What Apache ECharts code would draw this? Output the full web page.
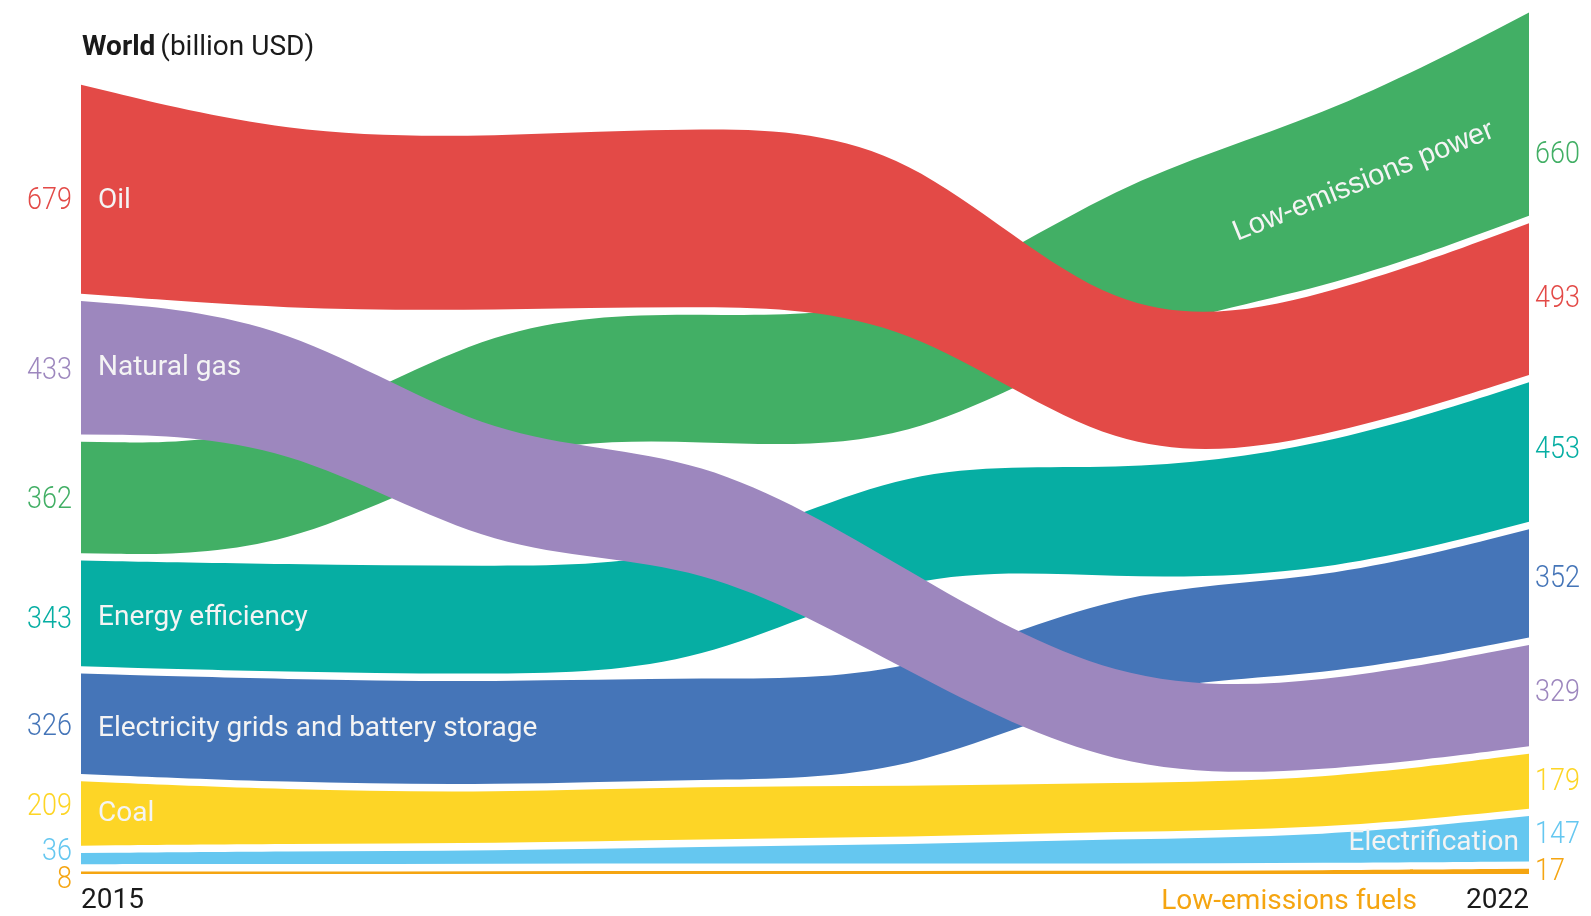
<!DOCTYPE html>
<html><head><meta charset="utf-8">
<script src="https://cdn.jsdelivr.net/npm/echarts@6/dist/echarts.min.js"></script>
<style>html,body{margin:0;padding:0;background:#fff}#c{width:1591px;height:916px}</style>
</head><body><div id="c"></div>
<script>
// ---------------- data ----------------
const years = ['2015', '2016', '2017', '2018', '2019', '2020', '2021', '2022'];
const categoryNames = ['Low-emissions power', 'Energy efficiency', 'Electricity grids and battery storage', 'Coal', 'Electrification', 'Low-emissions fuels', 'Natural gas', 'Oil'];
const lowEmissionsPower = [362, 365, 398, 415, 430, 480, 560, 660];
const energyEfficiency  = [343, 350, 352, 345, 340, 345, 410, 453];
const gridsStorage      = [326, 335, 335, 330, 320, 310, 310, 352];
const coal              = [209, 175, 165, 172, 165, 158, 160, 179];
const electrification   = [36, 42, 42, 55, 62, 80, 85, 147];
const lowEmissionsFuels = [8, 8, 9, 10, 10, 10, 12, 17];
const naturalGas        = [433, 390, 362, 352, 330, 280, 285, 329];
const oil               = [679, 566, 562, 582, 575, 425, 460, 493];
const seriesValues = [lowEmissionsPower, energyEfficiency, gridsStorage, coal, electrification, lowEmissionsFuels, naturalGas, oil];
const GAP = 24; // billion USD of spacing between ribbons

// ---------------- styles ----------------
const colors = ['#42AF65', '#06AEA3', '#4575B8', '#FDD526', '#65C7F0', '#F5A511', '#9D87BE', '#E34A47'];
// label offsets (px): left value, right value, name label
const leftDy  = [3, 7, 3, -6, -6, 7, 4, 12];
const rightDy = [41, -2, -4, 1, -4, 1, -2, 0];
const nameCfg = [
  { mode: 'rot' },
  { mode: 'left', dy: 5 },
  { mode: 'left', dy: 5 },
  { mode: 'left', dy: 0 },
  { mode: 'right', dy: 4 },
  { mode: 'below' },
  { mode: 'left', dy: 0 },
  { mode: 'left', dy: 12 }
];
const TXT_FONT = 'Roboto, "Liberation Sans", sans-serif';

// ---------------- stacking by rank per year ----------------
const bottoms = seriesValues.map(() => []);
const tops = seriesValues.map(() => []);
years.forEach((y, i) => {
  const order = seriesValues.map((s, k) => k).sort((a, b) => seriesValues[a][i] - seriesValues[b][i]);
  let base = 0;
  order.forEach((k, r) => {
    if (r > 0) base += GAP;
    bottoms[k][i] = base;
    base += seriesValues[k][i];
    tops[k][i] = base;
  });
});

// d3.curveBasis-equivalent path
function basisPath(pts, move) {
  const f = v => v.toFixed(2);
  let d = (move ? 'M' : 'L') + f(pts[0][0]) + ',' + f(pts[0][1]);
  let x0 = pts[0][0], y0 = pts[0][1], x1 = pts[1][0], y1 = pts[1][1];
  d += 'L' + f((5 * x0 + x1) / 6) + ',' + f((5 * y0 + y1) / 6);
  function seg(x, y) {
    d += 'C' + f((2 * x0 + x1) / 3) + ',' + f((2 * y0 + y1) / 3) + ' ' +
      f((x0 + 2 * x1) / 3) + ',' + f((y0 + 2 * y1) / 3) + ' ' +
      f((x0 + 4 * x1 + x) / 6) + ',' + f((y0 + 4 * y1 + y) / 6);
    x0 = x1; y0 = y1; x1 = x; y1 = y;
  }
  for (let i = 2; i < pts.length; i++) seg(pts[i][0], pts[i][1]);
  seg(x1, y1);
  d += 'L' + f(x1) + ',' + f(y1);
  return d;
}

function numText(x, y, text, color, align) {
  return { type: 'text', x, y, scaleX: 0.87,
    style: { text, fill: color, fontSize: 31, fontWeight: 300, fontFamily: TXT_FONT, align, verticalAlign: 'middle' } };
}

function renderItem(params, api) {
  const k = params.seriesIndex;
  const n = years.length;
  const topPts = years.map((_, i) => api.coord([i, tops[k][i]]));
  const botPts = years.map((_, i) => api.coord([i, bottoms[k][i]])).reverse();
  const d = basisPath(topPts, true) + basisPath(botPts, false) + 'Z';
  const children = [{ type: 'path', shape: { pathData: d }, style: { fill: colors[k] } }];

  const l0 = api.coord([0, (tops[k][0] + bottoms[k][0]) / 2]);
  const r0 = api.coord([n - 1, (tops[k][n - 1] + bottoms[k][n - 1]) / 2]);
  children.push(numText(l0[0] - 9, l0[1] + leftDy[k], String(seriesValues[k][0]), colors[k], 'right'));
  children.push(numText(r0[0] + 6, r0[1] + rightDy[k], String(seriesValues[k][n - 1]), colors[k], 'left'));

  const cfg = nameCfg[k];
  const white = '#F4F4F4';
  if (cfg.mode === 'left') {
    children.push({ type: 'text', x: l0[0] + 17, y: l0[1] + cfg.dy,
      style: { text: categoryNames[k], fill: white, fontSize: 28, fontFamily: TXT_FONT, align: 'left', verticalAlign: 'middle' } });
  } else if (cfg.mode === 'right') {
    children.push({ type: 'text', x: r0[0] - 10, y: r0[1] + cfg.dy,
      style: { text: categoryNames[k], fill: white, fontSize: 28, fontFamily: TXT_FONT, align: 'right', verticalAlign: 'middle' } });
  } else if (cfg.mode === 'rot') {
    const a = api.coord([6, 2250]);
    const b = api.coord([7, 2250]);
    children.push({ type: 'text', x: a[0] + 0.2 * (b[0] - a[0]), y: a[1], rotation: 22 * Math.PI / 180,
      style: { text: categoryNames[k], fill: white, fontSize: 29, fontFamily: '"Liberation Sans", Arial, sans-serif', align: 'center', verticalAlign: 'middle' } });
  } else if (cfg.mode === 'below') {
    const p = api.coord([n - 1, 0]);
    children.push({ type: 'text', x: p[0] - 112, y: p[1] + 28,
      style: { text: categoryNames[k], fill: colors[k], fontSize: 28, fontFamily: TXT_FONT, align: 'right', verticalAlign: 'middle' } });
  }
  return { type: 'group', children };
}

const chart = echarts.init(document.getElementById('c'), null, { renderer: 'canvas' });
chart.setOption({
  animation: false,
  backgroundColor: '#fff',
  title: {
    text: '{b|World} {n|(billion USD)}',
    left: 77, top: 29,
    textStyle: {
      rich: {
        b: { fontFamily: TXT_FONT, fontSize: 28, fontWeight: 'bold', color: '#1a1a1a' },
        n: { fontFamily: TXT_FONT, fontSize: 28, fontWeight: 'normal', color: '#1a1a1a' }
      }
    }
  },
  grid: { left: 81, right: 62, top: 12, bottom: 42 },
  xAxis: {
    type: 'category', data: years, boundaryGap: false,
    axisLine: { show: false }, axisTick: { show: false }, splitLine: { show: false },
    axisLabel: {
      interval: 0, margin: 13, color: '#1a1a1a', fontSize: 28, fontFamily: TXT_FONT,
      alignMinLabel: 'left', alignMaxLabel: 'right',
      formatter: (v, i) => (i === 0 || i === years.length - 1) ? v : ''
    }
  },
  yAxis: { type: 'value', min: 0, max: 2800, show: false },
  series: seriesValues.map((s, k) => ({
    type: 'custom', name: categoryNames[k], renderItem, clip: false, silent: true,
    data: [[0, 0]]
  }))
});
</script></body></html>
